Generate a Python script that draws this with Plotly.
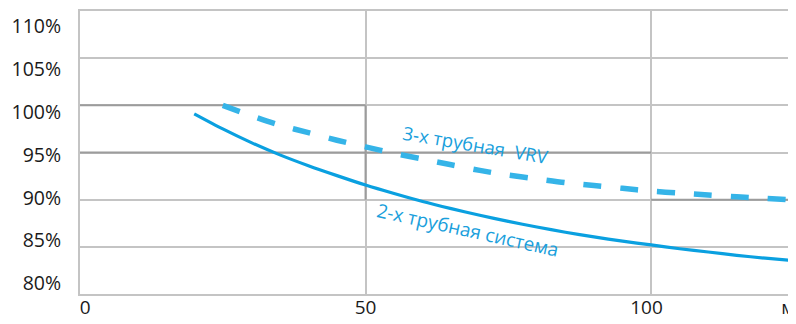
import plotly.graph_objects as go

# Data
pipe2_x = [20, 25, 30, 35, 40, 45, 50, 55, 60, 65, 70, 75, 80, 85, 90, 95, 100, 105, 110, 115, 120, 124]
pipe2_y = [99.1, 97.5, 96.05, 94.75, 93.6, 92.55, 91.55, 90.65, 89.8, 89.05, 88.35, 87.7, 87.1, 86.55, 86.05, 85.6, 85.2, 84.8, 84.45, 84.1, 83.8, 83.6]

pipe3_x = [25, 30, 35, 40, 45, 50, 55, 60, 65, 70, 75, 80, 85, 90, 95, 100, 105, 110, 115, 120, 124]
pipe3_y = [100.0, 98.9, 97.9, 97.1, 96.3, 95.6, 94.9, 94.3, 93.7, 93.1, 92.6, 92.2, 91.8, 91.5, 91.2, 90.9, 90.7, 90.5, 90.3, 90.15, 90.0]

# darker grid segments (step boundary)
step_x = [0, 50, None, 0, 100, None, 100, 125.2, None, 50, 50]
step_y = [100, 100, None, 95, 95, None, 90, 90, None, 100, 90]

y_ticks = [80, 85, 90, 95, 100, 105, 110]
y_tick_labels = ["80%", "85%", "90%", "95%", "100%", "105%", "110%"]
x_grid = [0, 50, 100]
x_label_pos = [0.9, 50, 99.2, 124.0]
x_tick_labels = ["0", "50", "100", "м"]

label_2pipe = "2-х трубная система"
label_3pipe = "3-х трубная\u00a0\u00a0VRV"

FONT = "Open Sans"
TXT = "#1a1a1a"
BLUE = "#0aa0e0"
BLUE2 = "#35b4e8"

fig = go.Figure()

fig.add_trace(go.Scatter(x=step_x, y=step_y, mode="lines",
                         line=dict(color="#9c9c9c", width=2),
                         hoverinfo="skip", showlegend=False))

fig.add_trace(go.Scatter(x=pipe2_x, y=pipe2_y, mode="lines",
                         line=dict(color=BLUE, width=3.2, shape="spline", smoothing=0.8),
                         showlegend=False))

fig.add_trace(go.Scatter(x=pipe3_x, y=pipe3_y, mode="lines",
                         line=dict(color=BLUE2, width=5.5, shape="spline", smoothing=0.8,
                                   dash="18px,19px"),
                         showlegend=False))

# invisible trace for label axes
fig.add_trace(go.Scatter(x=[50], y=[95], xaxis="x2", yaxis="y2", mode="markers",
                         marker=dict(opacity=0), hoverinfo="skip", showlegend=False))

fig.add_annotation(x=69.4, y=95.8, text=label_3pipe, showarrow=False,
                   textangle=9.7, xanchor="center", yanchor="middle",
                   font=dict(family=FONT, size=18.5, color="#1a9fdc"))
fig.add_annotation(x=68.0, y=86.8, text=label_2pipe, showarrow=False,
                   textangle=12.5, xanchor="center", yanchor="middle",
                   font=dict(family=FONT, size=19, color="#1a9fdc"))

# page body has an 8px default margin, so the figure is 8px smaller on each axis
fig.update_layout(
    width=788, height=316,
    margin=dict(l=72, r=1, t=3, b=30, autoexpand=False),
    paper_bgcolor="white", plot_bgcolor="white",
    font=dict(family=FONT, size=18, color=TXT),
    xaxis=dict(range=[0, 125.2], tickvals=x_grid, showticklabels=False,
               showgrid=True, gridcolor="#c4c4c4", gridwidth=2, automargin=False,
               showline=True, linecolor="#c4c4c4", linewidth=2, mirror=True,
               zeroline=False, ticks=""),
    xaxis2=dict(range=[0, 125.2], overlaying="x", side="bottom", anchor="y2",
                tickvals=x_label_pos, ticktext=x_tick_labels, showgrid=False,
                zeroline=False, showline=False, automargin=False, ticks="",
                ticklabeloverflow="allow",
                tickfont=dict(size=19, color=TXT)),
    yaxis=dict(range=[80, 110], tickvals=y_ticks, showticklabels=False, automargin=False,
               showgrid=True, gridcolor="#c4c4c4", gridwidth=2,
               showline=True, linecolor="#c4c4c4", linewidth=2, mirror=True,
               zeroline=False, ticks=""),
    yaxis2=dict(range=[78.78, 111.75], overlaying="y", side="left", automargin=False,
                anchor="x2",
                tickvals=y_ticks, ticktext=y_tick_labels, showgrid=False, zeroline=False,
                showline=False, ticks="outside", ticklen=14, tickcolor="rgba(0,0,0,0)",
                tickfont=dict(size=19.5, color=TXT)),
)

fig.write_html("out.html")
